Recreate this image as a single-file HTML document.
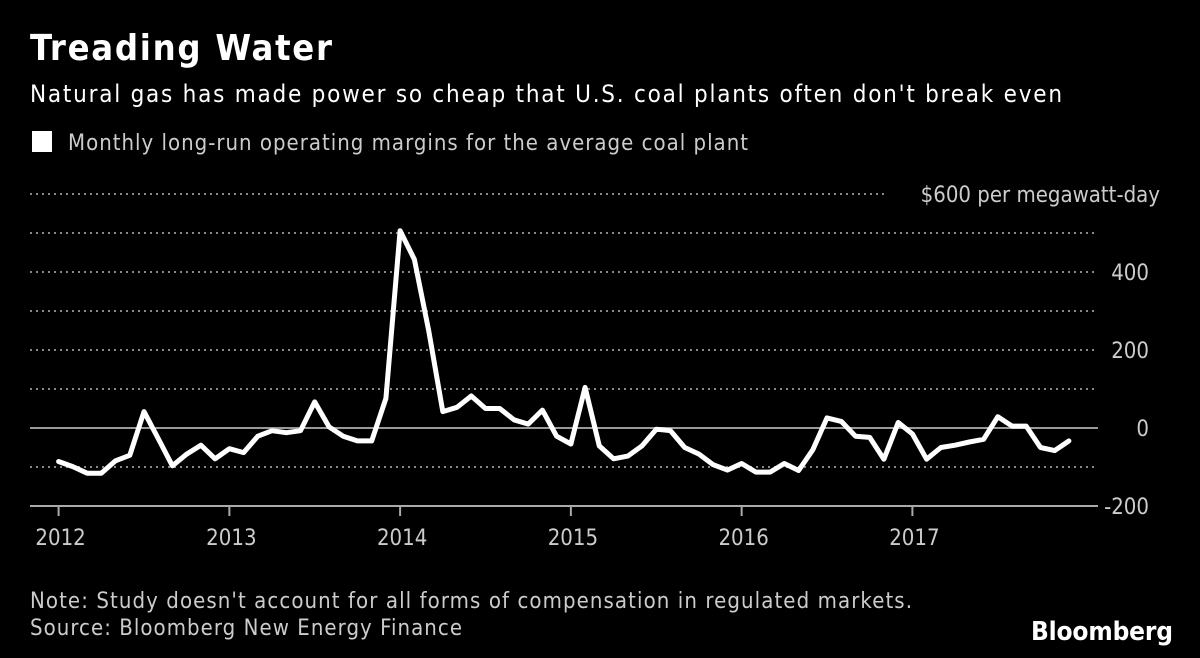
<!DOCTYPE html>
<html><head><meta charset="utf-8"><style>
html,body{margin:0;padding:0;background:#000;width:1200px;height:658px;overflow:hidden}
svg text{font-family:"DejaVu Sans Condensed","DejaVu Sans","Liberation Sans",sans-serif}
</style></head><body>
<svg id="chart" width="1200" height="658" viewBox="0 0 1200 658">
<text x="30" y="60" fill="#fff" font-size="36" font-weight="bold" textLength="302">Treading Water</text>
<text x="30" y="102" fill="#fff" font-size="24" textLength="1032">Natural gas has made power so cheap that U.S. coal plants often don't break even</text>
<rect x="32" y="131" width="20" height="21" fill="#fff"/>
<text x="68" y="150" fill="#ccc" font-size="22" textLength="680">Monthly long-run operating margins for the average coal plant</text>
<g id="grid"></g>
<g id="ylabels"></g>
<g id="xaxis"></g>
<path id="line" fill="none" stroke="#fff" stroke-width="5" stroke-linejoin="round" stroke-linecap="round"/>
<text x="30" y="608" fill="#ccc" font-size="22" textLength="882">Note: Study doesn't account for all forms of compensation in regulated markets.</text>
<text x="30" y="635" fill="#ccc" font-size="22" textLength="432">Source: Bloomberg New Energy Finance</text>
<text x="1173" y="640" fill="#fff" font-size="26" font-weight="bold" text-anchor="end" textLength="142">Bloomberg</text>
</svg>
<script>
const years = [2012, 2013, 2014, 2015, 2016, 2017];
const yTicks = [-200, 0, 200, 400, 600];
const yTickLabels = ["-200", "0", "200", "400", "$600 per megawatt-day"];
const margins = [
-86,-99,-116,-116,-84,-70,42,-27,-97,-67,-44,-79,
-53,-63,-21,-7,-12,-7,67,3,-21,-33,-33,76,
506,432,251,42,53,82,50,50,21,10,46,-21,
-41,104,-46,-79,-72,-46,-3,-7,-50,-67,-94,-108,
-91,-113,-113,-91,-109,-56,26,17,-21,-24,-80,14,
-15,-80,-50,-44,-36,-29,29,5,5,-50,-58,-33];
const NS = "http://www.w3.org/2000/svg";
const x0 = 58.6, monthW = 14.23;
const xScale = m => x0 + m * monthW;
const yScale = v => 428 - v * 0.39;
const grid = document.getElementById('grid');
for (let v = -100; v <= 600; v += 100) {
  if (v === 0) continue;
  const l = document.createElementNS(NS, 'line');
  
  
  l.setAttribute('x1', 30); l.setAttribute('x2', v === 600 ? 884 : 1098);
  l.setAttribute('y1', yScale(v)); l.setAttribute('y2', yScale(v));
  l.setAttribute('stroke', '#888'); l.setAttribute('stroke-width', 2);
  l.setAttribute('stroke-dasharray', '2,4');
  grid.appendChild(l);
}
const zl = document.createElementNS(NS, 'line');


zl.setAttribute('x1', 30); zl.setAttribute('x2', 1098);
zl.setAttribute('y1', yScale(0)); zl.setAttribute('y2', yScale(0));
zl.setAttribute('stroke', '#999'); zl.setAttribute('stroke-width', 2);
grid.appendChild(zl);
const yl = document.getElementById('ylabels');
yTicks.forEach((v, i) => {
  const t = document.createElementNS(NS, 'text');
  
  
  t.setAttribute('x', v === 600 ? 1160 : 1149);
  t.setAttribute('y', yScale(v) + 8);
  t.setAttribute('text-anchor', 'end');
  t.setAttribute('fill', '#ccc'); t.setAttribute('font-size', 22);
  t.textContent = yTickLabels[i];
  yl.appendChild(t);
});
const xa = document.getElementById('xaxis');
const ax = document.createElementNS(NS, 'line');


ax.setAttribute('x1', 30); ax.setAttribute('x2', 1098);
ax.setAttribute('y1', 506); ax.setAttribute('y2', 506);
ax.setAttribute('stroke', '#aaa'); ax.setAttribute('stroke-width', 2);
xa.appendChild(ax);
years.forEach((y, i) => {
  const x = xScale(i * 12);
  const tk = document.createElementNS(NS, 'line');
  
  
  tk.setAttribute('x1', x); tk.setAttribute('x2', x);
  tk.setAttribute('y1', 506); tk.setAttribute('y2', 516);
  tk.setAttribute('stroke', '#aaa'); tk.setAttribute('stroke-width', 2);
  xa.appendChild(tk);
  const t = document.createElementNS(NS, 'text');
  
  
  t.setAttribute('x', x + 2); t.setAttribute('y', 545);
  t.setAttribute('text-anchor', 'middle');
  t.setAttribute('fill', '#ccc'); t.setAttribute('font-size', 22);
  t.textContent = y;
  xa.appendChild(t);
});
document.getElementById('line').setAttribute('d',
  margins.map((v, i) => (i ? 'L' : 'M') + xScale(i).toFixed(1) + ',' + yScale(v).toFixed(1)).join(''));
</script>
</body></html>
